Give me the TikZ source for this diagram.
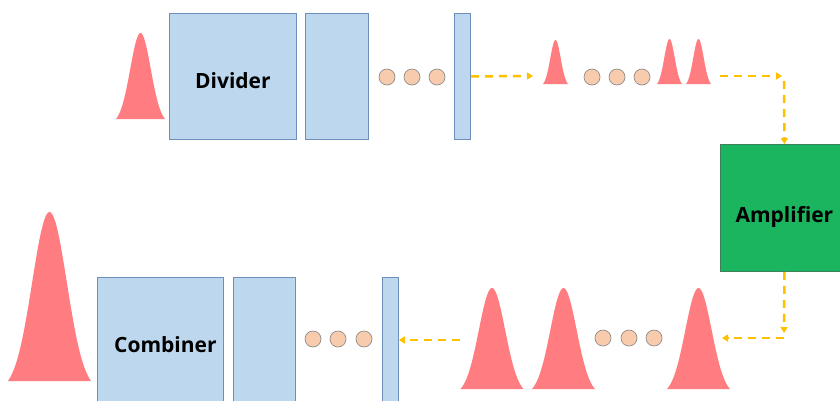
\documentclass[tikz,border=0pt]{standalone}
\usepackage{fontspec}
\setsansfont{Open Sans}[BoldFont={Open Sans Bold}]
\usetikzlibrary{arrows.meta}
\definecolor{boxfill}{HTML}{BDD7EE}
\definecolor{boxline}{HTML}{6D8FBA}
\definecolor{pulsecol}{HTML}{FF7C80}
\definecolor{dotfill}{HTML}{F8CBAD}
\definecolor{dotline}{HTML}{8E8E8E}
\definecolor{ampfill}{HTML}{1CB55F}
\definecolor{ampline}{HTML}{3F7F5C}
\definecolor{flowcol}{HTML}{FFC000}
\newcommand{\drawpulse}[4]{% centre x, base y, half width, height
  \fill[pulsecol] (#1-#3,#2) -- plot[domain=-1:1,samples=60,smooth] ({#1+#3*\x},{#2-#4*(exp(-(\x*\x)/0.35)-0.0574)/0.9426}) -- (#1+#3,#2) -- cycle;}
\newcommand{\lowtext}[2]{\raisebox{-#1}[0pt][0pt]{#2}}
\begin{document}
\begin{tikzpicture}[x=1pt,y=-1pt,
  block/.style={draw=boxline, fill=boxfill, line width=0.8pt, inner sep=0pt, anchor=north west,
    font=\sffamily\bfseries\fontsize{21}{25}\selectfont},
  ampbox/.style={draw=ampline, fill=ampfill, line width=0.8pt, inner sep=0pt, anchor=north west,
    font=\sffamily\bfseries\fontsize{21}{25}\selectfont},
  dot/.style={circle, draw=dotline, fill=dotfill, line width=0.7pt, minimum size=16pt, inner sep=0pt},
  flow/.style={draw=flowcol, line width=2.5pt, dash pattern=on 8pt off 6pt,
    -{Triangle[length=6pt,width=7pt]}}]
\clip (0,0) rectangle (840,400);
\fill[white] (0,0) rectangle (840,400);

% ---- top row ----
\drawpulse{140.5}{119}{24.5}{86}
\node[block, minimum width=127pt, minimum height=126pt] (divider) at (169,13) {\lowtext{12pt}{Divider}};
\node[block, minimum width=63pt, minimum height=126pt] (div2) at (305,13) {};
\node[dot] (d1) at (387,77) {};
\node[dot] (d2) at (412,77) {};
\node[dot] (d3) at (437,77) {};
\node[block, minimum width=16pt, minimum height=126pt] (bar1) at (454,13) {};

\coordinate (p1in) at (533,76);
\draw[flow] (bar1.east) -- (p1in);
\drawpulse{555.5}{84}{12.5}{44}
\node[dot] (d4) at (592,77) {};
\node[dot] (d5) at (617,77) {};
\node[dot] (d6) at (642,77) {};
\drawpulse{669.5}{84}{12.5}{45}
\drawpulse{698.5}{84}{12.5}{45}

\node[ampbox, minimum width=128pt, minimum height=127pt] (amp) at (720,144) {\lowtext{14.5pt}{Amplifier}};

\coordinate (t1) at (720,76);
\coordinate (t2) at (782,76);
\draw[flow] (t1) -- (t2);
\coordinate (t3) at (784,81);
\draw[flow] (t3) -- (amp.north);

% ---- bottom row ----
\coordinate (b1) at (784,333);
\draw[flow] (amp.south) -- (b1);
\coordinate (b2) at (784,338);
\coordinate (b3) at (722,338);
\draw[flow] (b2) -- (b3);
\drawpulse{698.5}{389}{31.5}{101}
\node[dot] (d7) at (603,338) {};
\node[dot] (d8) at (629,338) {};
\node[dot] (d9) at (654,338) {};
\drawpulse{563.5}{389}{31.5}{101}
\drawpulse{492}{389}{31.5}{101}

\node[block, minimum width=16pt, minimum height=133pt] (bar2) at (382,277) {};
\coordinate (b4) at (460,340);
\draw[flow] (b4) -- (bar2.east |- b4);
\node[dot] (d10) at (313,339) {};
\node[dot] (d11) at (338,339) {};
\node[dot] (d12) at (364,339) {};
\node[block, minimum width=62pt, minimum height=133pt] (comb2) at (233,277) {};
\node[block, minimum width=126pt, minimum height=133pt] (combiner) at (97,277) {\hspace*{10pt}\lowtext{8.5pt}{Combiner}};
\drawpulse{49.5}{381}{41.5}{169}
\end{tikzpicture}
\end{document}
